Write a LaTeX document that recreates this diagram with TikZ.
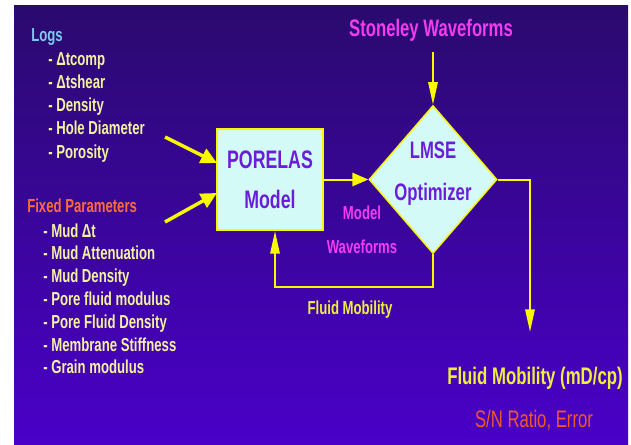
\documentclass[tikz,border=0pt]{standalone}
\usepackage{fontspec}
\setmainfont{Liberation Sans}[FakeStretch=0.7]
\usetikzlibrary{positioning,calc,arrows.meta,shapes.geometric}
\definecolor{bgtop}{HTML}{2A0A6E}
\definecolor{bgbot}{HTML}{4A00C8}
\definecolor{flowyel}{HTML}{F8F800}
\definecolor{itemyel}{HTML}{F2F2A0}
\definecolor{outyel}{HTML}{EEEE40}
\definecolor{boxfill}{HTML}{D4FAF8}
\definecolor{boxtext}{HTML}{6A1ED8}
\definecolor{wavemag}{HTML}{F23CF0}
\definecolor{logsblue}{HTML}{7EC8F0}
\definecolor{fixedred}{HTML}{FF6A3C}
\definecolor{errred}{HTML}{F0582A}

\begin{document}
\begin{tikzpicture}[x=0.75pt,y=-0.75pt,
  every node/.style={inner sep=0pt},
  listhead/.style={anchor=base west,font=\bfseries\fontsize{14.1}{16}\selectfont},
  listitem/.style={anchor=base west,text=itemyel,font=\bfseries\fontsize{14.1}{16}\selectfont},
  modelbox/.style={draw=flowyel,line width=1.5pt,fill=boxfill,text=boxtext,align=center,
    minimum width=79.5pt,minimum height=75.75pt,font=\bfseries\fontsize{19}{30}\selectfont},
  optim/.style={diamond,draw=flowyel,line width=1.1pt,fill=boxfill,
    minimum width=96pt,minimum height=111pt},
  optimtext/.style={text=boxtext,align=center,font=\bfseries\fontsize{17.9}{31.5}\selectfont},
  flow/.style={draw=flowyel,line width=1.5pt},
  thinhead/.style={-{Triangle[length=17pt,width=7pt]}},
  fathead/.style={line width=2.6pt,-{Triangle[length=12pt,width=11.5pt]}},
  caption/.style={align=center,font=\bfseries\fontsize{14.1}{25.5}\selectfont}]
% page and background
\useasboundingbox (0,0) rectangle (631,444);
\fill[white] (0,0) rectangle (631,444);
\shade[top color=bgtop,bottom color=bgbot] (14,5) rectangle (628,444);

% inputs on the left
\node[listhead,text=logsblue] (logs) at (31,41) {Logs};
\node[listitem] (dtcomp) at (48,65) {- Δtcomp};
\node[listitem] (dtshear) at (48,88.25) {- Δtshear};
\node[listitem] (density) at (48,111.5) {- Density};
\node[listitem] (holediam) at (48,134.75) {- Hole Diameter};
\node[listitem] (porosity) at (48,158) {- Porosity};

\node[listhead,text=fixedred] (fixed) at (27,212) {Fixed Parameters};
\node[listitem] (muddt) at (43,237) {- Mud Δt};
\node[listitem] (mudatt) at (43,259.8) {- Mud Attenuation};
\node[listitem] (muddens) at (43,282.6) {- Mud Density};
\node[listitem] (poremod) at (43,305.4) {- Pore fluid modulus};
\node[listitem] (poredens) at (43,328.2) {- Pore Fluid Density};
\node[listitem] (membrane) at (43,351) {- Membrane Stiffness};
\node[listitem] (grain) at (43,373.8) {- Grain modulus};

% model and optimizer
\node[modelbox] (porelas) at (270,179.5) {PORELAS\\Model};
\node[optim] (lmse) at (433,179.5) {};
\node[optimtext] (lmse text) at (433,173.3) {LMSE\\Optimizer};

\node[anchor=base,text=wavemag,font=\bfseries\fontsize{17.9}{20}\selectfont]
  (stoneley) at (431,36) {Stoneley Waveforms};
\node[caption,text=wavemag] (modelwf) at (362,230) {Model\\Waveforms};
\node[anchor=base,text=outyel,font=\bfseries\fontsize{14.1}{16}\selectfont]
  (fbmob) at (350,314) {Fluid Mobility};
\node[anchor=base,text=outyel,font=\bfseries\fontsize{18}{20}\selectfont]
  (outmob) at (535,384) {Fluid Mobility (mD/cp)};
\node[anchor=base,text=errred,font=\fontsize{17.9}{20}\selectfont]
  (snr) at (534,427) {S/N Ratio, Error};

% connectors
\coordinate (logs tail) at (165,137);
\coordinate (logs tip) at (217,163);
\coordinate (fixed tail) at (165,222);
\coordinate (fixed tip) at (217,193);
\coordinate (stoneley in) at (433,52);
\coordinate (fb corner) at (275,287);
\coordinate (out tip) at (530,332);

\draw[flow,fathead] (logs tail) -- (logs tip);
\draw[flow,fathead] (fixed tail) -- (fixed tip);
\draw[flow,-{Triangle[length=12pt,width=10pt]}] (porelas.east) -- (lmse.west);
\draw[flow,thinhead] (stoneley in) -- (lmse.north);
\draw[flow,thinhead] (lmse.south) |- (fb corner) -- (fb corner |- porelas.south);
\draw[flow,thinhead] (lmse.east) -| (out tip);
\end{tikzpicture}
\end{document}
